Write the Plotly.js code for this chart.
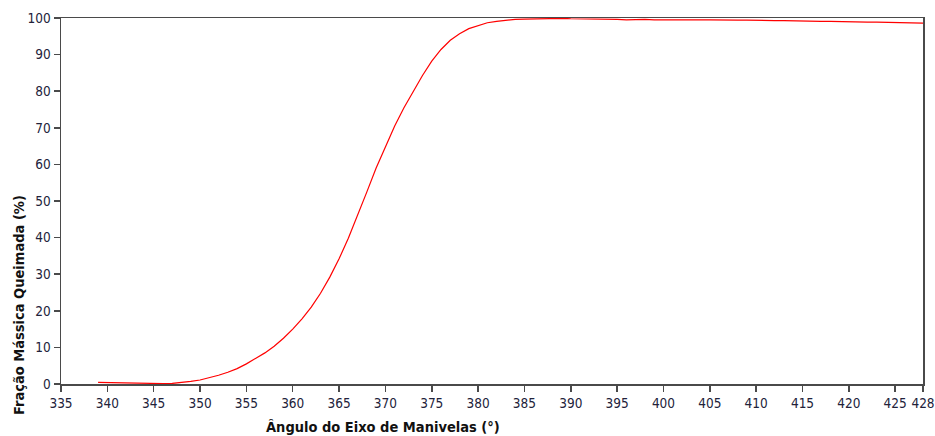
<!DOCTYPE html>
<html>
<head>
<meta charset="utf-8">
<script src="https://cdn.plot.ly/plotly-3.0.1.min.js"></script>
<style>html,body{margin:0;padding:0;background:#fff;}#chart{width:935px;height:436px;}</style>
</head>
<body>
<div id="chart"></div>
<script>
const crankAngle = [339,340,341,342,343,344,345,346,347,348,349,350,351,352,353,354,355,356,357,358,359,
  360,361,362,363,364,365,366,367,368,369,370,371,372,373,374,375,376,377,378,379,
  380,381,382,383,384,385,386,387,388,389,390,391,392,393,394,395,396,397,398,399,
  400,401,402,403,404,405,406,407,408,409,410,411,412,413,414,415,416,417,418,419,
  420,421,422,423,424,425,426,427,428];
const massFraction = [0.45,0.4,0.35,0.3,0.2,0.1,0.1,0.1,0.15,0.35,0.7,1.1,1.7,2.4,3.2,4.2,5.5,6.9,8.5,10.3,12.5,
  15.0,17.8,21.0,24.8,29.2,34.2,39.8,46.0,52.5,59.0,65.0,70.5,75.5,80.0,84.3,88.2,91.4,93.9,95.7,97.1,
  98.0,98.7,99.1,99.4,99.6,99.7,99.8,99.9,99.8,99.9,99.8,99.8,99.7,99.7,99.6,99.6,99.5,99.6,99.6,99.5,
  99.6,99.5,99.5,99.6,99.5,99.5,99.4,99.5,99.4,99.4,99.3,99.4,99.3,99.3,99.2,99.2,99.2,99.1,99.1,99.0,
  99.0,99.0,98.9,98.9,98.8,98.7,98.7,98.6,98.6];
const xTickVals = [335,340,345,350,355,360,365,370,375,380,385,390,395,400,405,410,415,420,425,428];
const xTickText = ["335","340","345","350","355","360","365","370","375","380","385","390","395","400","405","410","415","420","425","428"];
const yTickVals = [0,10,20,30,40,50,60,70,80,90,100];
const xTitle = "Ângulo do Eixo de Manivelas (°)";
const yTitle = "Fração Mássica Queimada (%)";

const tickFont = {family: "DejaVu Sans Condensed, DejaVu Sans, sans-serif", size: 13.5, color: "#22223a"};
const titleFont = {family: "DejaVu Sans Condensed, DejaVu Sans, sans-serif", size: 14.5, color: "#111", weight: "bold"};

const trace = {
  x: crankAngle, y: massFraction, type: "scatter", mode: "lines",
  line: {color: "#ff0000", width: 1.2}, hoverinfo: "skip", cliponaxis: false
};
const L = 61, R = 12, T = 18, B = 52, W = 935, H = 436;
const pw = W - L - R, ph = H - T - B;
const layout = {
  width: W, height: H,
  margin: {l: L, r: R, t: T, b: B},
  paper_bgcolor: "#ffffff", plot_bgcolor: "#ffffff",
  showlegend: false,
  xaxis: {
    range: [335, 428], tickmode: "array", tickvals: xTickVals, ticktext: xTickText,
    showgrid: false, zeroline: false, showline: true, mirror: true,
    linecolor: "#4a4a4a", linewidth: 1.5, ticks: "outside", ticklen: 6, tickwidth: 1.5, tickcolor: "#4a4a4a",
    tickfont: tickFont, ticklabeloverflow: "allow", tickangle: 0
  },
  yaxis: {
    range: [0, 100], tickmode: "array", tickvals: yTickVals,
    showgrid: false, zeroline: false, showline: true, mirror: true,
    linecolor: "#4a4a4a", linewidth: 1.5, ticks: "outside", ticklen: 6, tickwidth: 1.5, tickcolor: "#4a4a4a",
    tickfont: tickFont, ticklabeloverflow: "allow"
  },
  annotations: [
    {text: "<b>" + xTitle + "</b>", xref: "paper", yref: "paper",
     x: (383 - L) / pw, y: (H - B - 427) / ph, xanchor: "center", yanchor: "middle",
     showarrow: false, font: titleFont},
    {text: "<b>" + yTitle + "</b>", xref: "paper", yref: "paper", textangle: -90,
     x: (19 - L) / pw, y: (H - B - 305) / ph, xanchor: "center", yanchor: "middle",
     showarrow: false, font: titleFont}
  ]
};
Plotly.newPlot("chart", [trace], layout, {staticPlot: true, displayModeBar: false});
</script>
</body>
</html>
